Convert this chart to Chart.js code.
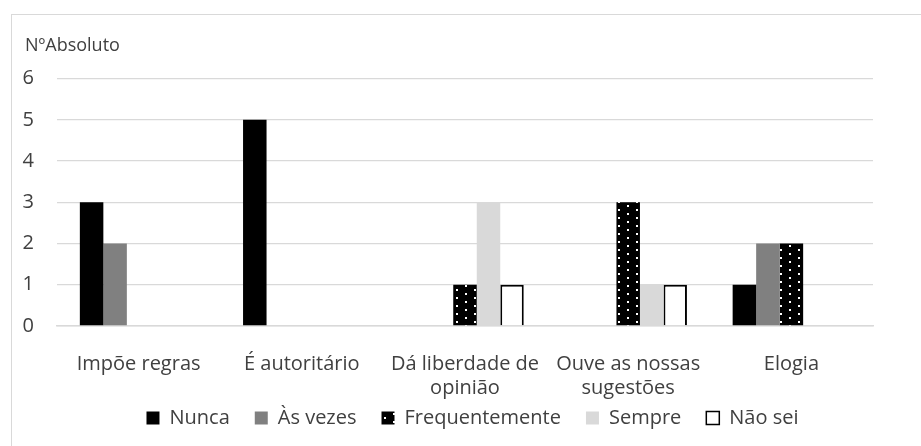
<!DOCTYPE html>
<html>
<head>
<meta charset="utf-8">
<script src="https://cdn.jsdelivr.net/npm/chart.js@4/dist/chart.umd.min.js"></script>
<style>
  body { margin: 0; background: #fff; }
  #box { position: absolute; left: 11px; top: 14px; width: 920px; height: 440px; border: 1px solid #d9d9d9; box-sizing: border-box; }
  #wrap { position: absolute; left: 0; top: 0; width: 921px; height: 446px; }
</style>
</head>
<body>
<div id="box"></div>
<div id="wrap"><canvas id="chart" width="921" height="446"></canvas></div>
<script>
let categories = ['Impõe regras', 'É autoritário', ['Dá liberdade de', 'opinião'], ['Ouve as nossas', 'sugestões'], 'Elogia'];
let nunca = [3, 5, 0, 0, 1];
let asVezes = [2, 0, 0, 0, 2];
let frequentemente = [0, 0, 1, 3, 2];
let sempre = [0, 0, 3, 1, 0];
let naoSei = [0, 0, 1, 1, 0];
let yTicks = [0, 1, 2, 3, 4, 5, 6];

const FONT = '"Open Sans", Lato, sans-serif';
const TXT = '#404040';

// black fill with sparse white dots
function dotPattern() {
    const c = document.createElement('canvas');
    c.width = 18; c.height = 8;
    const g = c.getContext('2d');
    g.fillStyle = '#000';
    g.fillRect(0, 0, 18, 8);
    g.fillStyle = '#fff';
    g.fillRect(6, 1, 2, 2);
    g.fillRect(15, 5, 2, 2);
    return g.createPattern(c, 'repeat');
}

const dots = dotPattern();

function ds(label, data, bg, border, bw) {
    return {
        label: label,
        data: data,
        backgroundColor: bg,
        borderColor: border,
        borderWidth: bw,
        categoryPercentage: 0.72,
        barPercentage: 1.0
    };
}

// legend padding is wide for item spacing, so give it a small fixed height
// and then place it (and the title) by hand
const LEGEND_H = 10, LEGEND_TOP = 383, LEGEND_SHIFT = 36, TITLE_LEFT = 25;
const placeBoxes = {
    id: 'placeBoxes',
    beforeLayout(chart) {
        const lg = chart.legend;
        if (lg && !lg._fixed) {
            const fit = lg.fit.bind(lg);
            lg.fit = function() { fit(); this.height = LEGEND_H; };
            lg._fixed = true;
        }
    },
    afterLayout(chart) {
        const lg = chart.legend;
        if (lg) {
            lg.top = LEGEND_TOP;
            lg.bottom = chart.height;
            lg.left += LEGEND_SHIFT;
            lg.right += LEGEND_SHIFT;
        }
        const tb = chart.titleBlock;
        if (tb) { tb.left = TITLE_LEFT; }
    }
};

const ctx = document.getElementById('chart').getContext('2d');
new Chart(ctx, {
    type: 'bar',
    data: {
        labels: categories,
        datasets: [
            ds('Nunca', nunca, '#000000', '#000000', 0),
            ds('Às vezes', asVezes, '#808080', '#808080', 0),
            ds('Frequentemente', frequentemente, dots, '#000000', 0),
            ds('Sempre', sempre, '#d9d9d9', '#d9d9d9', 0),
            ds('Não sei', naoSei, '#ffffff', '#000000', 2)
        ]
    },
    plugins: [placeBoxes],
    options: {
        responsive: false,
        animation: false,
        layout: { padding: { left: 0, right: 48, top: 20, bottom: 18 } },
        plugins: {
            title: {
                display: true,
                text: 'NºAbsoluto',
                align: 'start',
                color: TXT,
                font: { family: FONT, size: 18, weight: 'normal' },
                padding: { top: 15, bottom: 22 }
            },
            legend: {
                position: 'bottom',
                labels: {
                    color: TXT,
                    font: { family: FONT, size: 20 },
                    boxWidth: 13,
                    boxHeight: 13,
                    padding: 25,
                    generateLabels: function(chart) {
                        return chart.data.datasets.map(function(d, i) {
                            return {
                                text: d.label,
                                fillStyle: d.backgroundColor,
                                strokeStyle: i === 4 ? '#000' : d.backgroundColor,
                                lineWidth: i === 4 ? 1.5 : 0,
                                fontColor: TXT,
                                datasetIndex: i
                            };
                        });
                    }
                }
            },
            tooltip: { enabled: false }
        },
        scales: {
            x: {
                grid: { display: false },
                border: { display: true, color: '#d9d9d9', width: 1.5 },
                ticks: { color: TXT, font: { family: FONT, size: 20, lineHeight: 1.2 }, maxRotation: 0, autoSkip: false, padding: 18 }
            },
            y: {
                min: 0,
                max: 6,
                afterBuildTicks: function(axis) {
                    axis.ticks = yTicks.map(function(v) { return { value: v }; });
                },
                afterFit: function(axis) { axis.width = 57; },
                grid: { color: '#d9d9d9', lineWidth: 1.3, drawTicks: false },
                border: { display: false },
                ticks: { color: TXT, font: { family: FONT, size: 20 }, padding: 23 }
            }
        }
    }
});
</script>
</body>
</html>
